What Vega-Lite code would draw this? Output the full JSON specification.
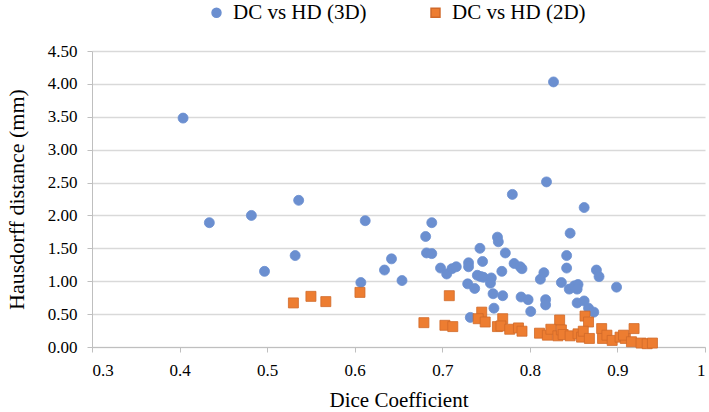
{
  "$schema": "https://vega.github.io/schema/vega-lite/v6.json",
  "width": 613,
  "height": 296,
  "autosize": {"type": "none"},
  "padding": {"left": 92, "top": 51, "right": 4, "bottom": 65},
  "background": "white",
  "config": {
    "view": {"stroke": null},
    "font": "Liberation Serif"
  },
  "data": {
    "values": [
      {"dc": 0.404, "hd": 3.48, "series": "DC vs HD (3D)"},
      {"dc": 0.434, "hd": 1.89, "series": "DC vs HD (3D)"},
      {"dc": 0.482, "hd": 2.00, "series": "DC vs HD (3D)"},
      {"dc": 0.536, "hd": 2.23, "series": "DC vs HD (3D)"},
      {"dc": 0.532, "hd": 1.39, "series": "DC vs HD (3D)"},
      {"dc": 0.497, "hd": 1.15, "series": "DC vs HD (3D)"},
      {"dc": 0.612, "hd": 1.92, "series": "DC vs HD (3D)"},
      {"dc": 0.607, "hd": 0.98, "series": "DC vs HD (3D)"},
      {"dc": 0.634, "hd": 1.17, "series": "DC vs HD (3D)"},
      {"dc": 0.642, "hd": 1.34, "series": "DC vs HD (3D)"},
      {"dc": 0.654, "hd": 1.01, "series": "DC vs HD (3D)"},
      {"dc": 0.681, "hd": 1.68, "series": "DC vs HD (3D)"},
      {"dc": 0.688, "hd": 1.89, "series": "DC vs HD (3D)"},
      {"dc": 0.682, "hd": 1.43, "series": "DC vs HD (3D)"},
      {"dc": 0.688, "hd": 1.42, "series": "DC vs HD (3D)"},
      {"dc": 0.698, "hd": 1.20, "series": "DC vs HD (3D)"},
      {"dc": 0.705, "hd": 1.11, "series": "DC vs HD (3D)"},
      {"dc": 0.711, "hd": 1.19, "series": "DC vs HD (3D)"},
      {"dc": 0.716, "hd": 1.22, "series": "DC vs HD (3D)"},
      {"dc": 0.730, "hd": 1.28, "series": "DC vs HD (3D)"},
      {"dc": 0.730, "hd": 1.22, "series": "DC vs HD (3D)"},
      {"dc": 0.729, "hd": 0.96, "series": "DC vs HD (3D)"},
      {"dc": 0.737, "hd": 0.89, "series": "DC vs HD (3D)"},
      {"dc": 0.732, "hd": 0.45, "series": "DC vs HD (3D)"},
      {"dc": 0.743, "hd": 1.50, "series": "DC vs HD (3D)"},
      {"dc": 0.746, "hd": 1.30, "series": "DC vs HD (3D)"},
      {"dc": 0.740, "hd": 1.09, "series": "DC vs HD (3D)"},
      {"dc": 0.744, "hd": 1.07, "series": "DC vs HD (3D)"},
      {"dc": 0.747, "hd": 1.06, "series": "DC vs HD (3D)"},
      {"dc": 0.756, "hd": 1.05, "series": "DC vs HD (3D)"},
      {"dc": 0.755, "hd": 0.97, "series": "DC vs HD (3D)"},
      {"dc": 0.768, "hd": 1.15, "series": "DC vs HD (3D)"},
      {"dc": 0.763, "hd": 1.67, "series": "DC vs HD (3D)"},
      {"dc": 0.764, "hd": 1.60, "series": "DC vs HD (3D)"},
      {"dc": 0.772, "hd": 1.43, "series": "DC vs HD (3D)"},
      {"dc": 0.780, "hd": 2.32, "series": "DC vs HD (3D)"},
      {"dc": 0.758, "hd": 0.81, "series": "DC vs HD (3D)"},
      {"dc": 0.769, "hd": 0.78, "series": "DC vs HD (3D)"},
      {"dc": 0.759, "hd": 0.59, "series": "DC vs HD (3D)"},
      {"dc": 0.782, "hd": 1.27, "series": "DC vs HD (3D)"},
      {"dc": 0.789, "hd": 1.22, "series": "DC vs HD (3D)"},
      {"dc": 0.791, "hd": 1.19, "series": "DC vs HD (3D)"},
      {"dc": 0.790, "hd": 0.76, "series": "DC vs HD (3D)"},
      {"dc": 0.798, "hd": 0.72, "series": "DC vs HD (3D)"},
      {"dc": 0.801, "hd": 0.54, "series": "DC vs HD (3D)"},
      {"dc": 0.812, "hd": 1.03, "series": "DC vs HD (3D)"},
      {"dc": 0.827, "hd": 4.03, "series": "DC vs HD (3D)"},
      {"dc": 0.819, "hd": 2.51, "series": "DC vs HD (3D)"},
      {"dc": 0.862, "hd": 2.12, "series": "DC vs HD (3D)"},
      {"dc": 0.846, "hd": 1.73, "series": "DC vs HD (3D)"},
      {"dc": 0.842, "hd": 1.39, "series": "DC vs HD (3D)"},
      {"dc": 0.842, "hd": 1.20, "series": "DC vs HD (3D)"},
      {"dc": 0.816, "hd": 1.13, "series": "DC vs HD (3D)"},
      {"dc": 0.876, "hd": 1.17, "series": "DC vs HD (3D)"},
      {"dc": 0.879, "hd": 1.07, "series": "DC vs HD (3D)"},
      {"dc": 0.836, "hd": 0.98, "series": "DC vs HD (3D)"},
      {"dc": 0.845, "hd": 0.88, "series": "DC vs HD (3D)"},
      {"dc": 0.851, "hd": 0.93, "series": "DC vs HD (3D)"},
      {"dc": 0.855, "hd": 0.95, "series": "DC vs HD (3D)"},
      {"dc": 0.854, "hd": 0.88, "series": "DC vs HD (3D)"},
      {"dc": 0.899, "hd": 0.91, "series": "DC vs HD (3D)"},
      {"dc": 0.818, "hd": 0.72, "series": "DC vs HD (3D)"},
      {"dc": 0.818, "hd": 0.64, "series": "DC vs HD (3D)"},
      {"dc": 0.854, "hd": 0.67, "series": "DC vs HD (3D)"},
      {"dc": 0.862, "hd": 0.70, "series": "DC vs HD (3D)"},
      {"dc": 0.867, "hd": 0.59, "series": "DC vs HD (3D)"},
      {"dc": 0.873, "hd": 0.53, "series": "DC vs HD (3D)"},
      {"dc": 0.530, "hd": 0.67, "series": "DC vs HD (2D)"},
      {"dc": 0.550, "hd": 0.77, "series": "DC vs HD (2D)"},
      {"dc": 0.567, "hd": 0.69, "series": "DC vs HD (2D)"},
      {"dc": 0.606, "hd": 0.83, "series": "DC vs HD (2D)"},
      {"dc": 0.679, "hd": 0.37, "series": "DC vs HD (2D)"},
      {"dc": 0.708, "hd": 0.78, "series": "DC vs HD (2D)"},
      {"dc": 0.703, "hd": 0.33, "series": "DC vs HD (2D)"},
      {"dc": 0.712, "hd": 0.31, "series": "DC vs HD (2D)"},
      {"dc": 0.745, "hd": 0.53, "series": "DC vs HD (2D)"},
      {"dc": 0.741, "hd": 0.43, "series": "DC vs HD (2D)"},
      {"dc": 0.749, "hd": 0.38, "series": "DC vs HD (2D)"},
      {"dc": 0.769, "hd": 0.43, "series": "DC vs HD (2D)"},
      {"dc": 0.763, "hd": 0.31, "series": "DC vs HD (2D)"},
      {"dc": 0.767, "hd": 0.32, "series": "DC vs HD (2D)"},
      {"dc": 0.777, "hd": 0.27, "series": "DC vs HD (2D)"},
      {"dc": 0.787, "hd": 0.29, "series": "DC vs HD (2D)"},
      {"dc": 0.791, "hd": 0.24, "series": "DC vs HD (2D)"},
      {"dc": 0.811, "hd": 0.21, "series": "DC vs HD (2D)"},
      {"dc": 0.834, "hd": 0.41, "series": "DC vs HD (2D)"},
      {"dc": 0.863, "hd": 0.47, "series": "DC vs HD (2D)"},
      {"dc": 0.867, "hd": 0.38, "series": "DC vs HD (2D)"},
      {"dc": 0.820, "hd": 0.18, "series": "DC vs HD (2D)"},
      {"dc": 0.824, "hd": 0.27, "series": "DC vs HD (2D)"},
      {"dc": 0.832, "hd": 0.17, "series": "DC vs HD (2D)"},
      {"dc": 0.836, "hd": 0.26, "series": "DC vs HD (2D)"},
      {"dc": 0.838, "hd": 0.19, "series": "DC vs HD (2D)"},
      {"dc": 0.846, "hd": 0.17, "series": "DC vs HD (2D)"},
      {"dc": 0.855, "hd": 0.20, "series": "DC vs HD (2D)"},
      {"dc": 0.859, "hd": 0.15, "series": "DC vs HD (2D)"},
      {"dc": 0.861, "hd": 0.24, "series": "DC vs HD (2D)"},
      {"dc": 0.868, "hd": 0.13, "series": "DC vs HD (2D)"},
      {"dc": 0.882, "hd": 0.28, "series": "DC vs HD (2D)"},
      {"dc": 0.883, "hd": 0.13, "series": "DC vs HD (2D)"},
      {"dc": 0.888, "hd": 0.18, "series": "DC vs HD (2D)"},
      {"dc": 0.894, "hd": 0.10, "series": "DC vs HD (2D)"},
      {"dc": 0.903, "hd": 0.15, "series": "DC vs HD (2D)"},
      {"dc": 0.909, "hd": 0.13, "series": "DC vs HD (2D)"},
      {"dc": 0.907, "hd": 0.18, "series": "DC vs HD (2D)"},
      {"dc": 0.919, "hd": 0.28, "series": "DC vs HD (2D)"},
      {"dc": 0.916, "hd": 0.08, "series": "DC vs HD (2D)"},
      {"dc": 0.927, "hd": 0.06, "series": "DC vs HD (2D)"},
      {"dc": 0.934, "hd": 0.05, "series": "DC vs HD (2D)"},
      {"dc": 0.940, "hd": 0.06, "series": "DC vs HD (2D)"}
    ]
  },
  "mark": {"type": "point", "filled": true, "opacity": 1, "size": 100, "strokeWidth": 0.8},
  "encoding": {
    "x": {
      "field": "dc",
      "type": "quantitative",
      "title": "Dice Coefficient",
      "scale": {"domain": [0.3, 1], "nice": false, "zero": false},
      "axis": {
        "values": [0.3, 0.4, 0.5, 0.6, 0.7, 0.8, 0.9, 1],
        "labelExpr": "datum.value == 1 ? '1' : format(datum.value, '.1f')",
        "grid": false,
        "domainColor": "#bfbfbf",
        "tickColor": "#bfbfbf",
        "tickSize": 5,
        "labelFont": "Liberation Serif",
        "labelFontSize": 17,
        "labelColor": "#000000",
        "labelPadding": 10,
        "titleFont": "Liberation Serif",
        "titleFontSize": 21,
        "titleFontWeight": "normal",
        "titleColor": "#000000",
        "titlePadding": 11
      }
    },
    "y": {
      "field": "hd",
      "type": "quantitative",
      "title": "Hausdorff distance (mm)",
      "scale": {"domain": [0, 4.5], "nice": false},
      "axis": {
        "values": [0, 0.5, 1, 1.5, 2, 2.5, 3, 3.5, 4, 4.5],
        "format": ".2f",
        "grid": true,
        "gridColor": "#d9d9d9",
        "gridWidth": 1.3,
        "domainColor": "#bfbfbf",
        "tickColor": "#bfbfbf",
        "tickSize": 5,
        "labelFont": "Liberation Serif",
        "labelFontSize": 17,
        "labelColor": "#000000",
        "labelPadding": 10,
        "titleFont": "Liberation Serif",
        "titleFontSize": 22,
        "titleFontWeight": "normal",
        "titleColor": "#000000",
        "titlePadding": 19
      }
    },
    "color": {
      "field": "series",
      "type": "nominal",
      "scale": {"domain": ["DC vs HD (3D)", "DC vs HD (2D)"], "range": ["#6b8fd0", "#ed7d31"]},
      "legend": {
        "title": null,
        "orient": "none",
        "legendX": 114,
        "legendY": -49,
        "direction": "horizontal",
        "labelFont": "Liberation Serif",
        "labelFontSize": 21,
        "labelColor": "#000000",
        "symbolSize": 80,
        "columnPadding": 58,
        "labelOffset": 6
      }
    },
    "shape": {
      "field": "series",
      "type": "nominal",
      "scale": {"domain": ["DC vs HD (3D)", "DC vs HD (2D)"], "range": ["circle", "square"]},
      "legend": null
    },
    "stroke": {
      "field": "series",
      "type": "nominal",
      "scale": {"domain": ["DC vs HD (3D)", "DC vs HD (2D)"], "range": ["#6b8fd0", "#d0692a"]},
      "legend": null
    }
  }
}
